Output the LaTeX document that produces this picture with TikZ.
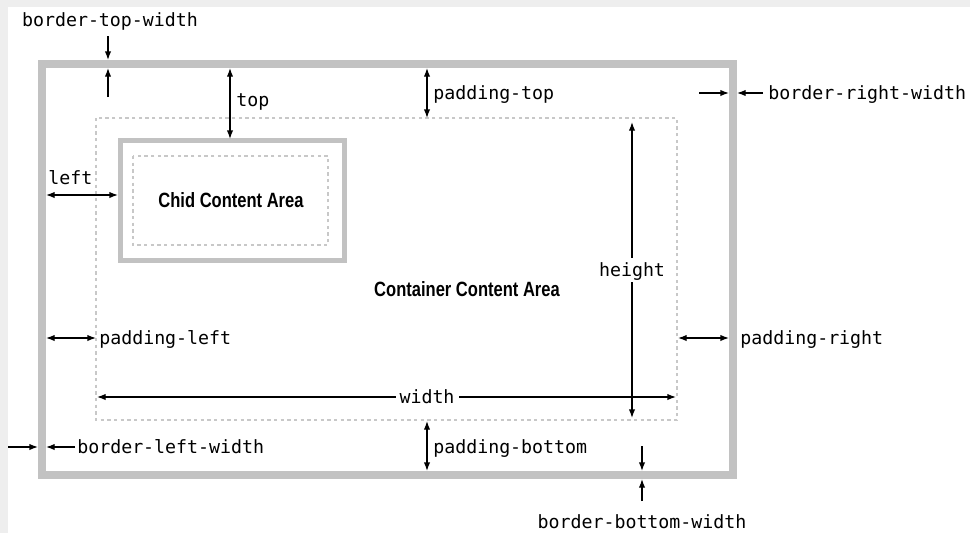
\documentclass[tikz,border=0pt]{standalone}
\usepackage{fontspec}
\setmonofont{DejaVu Sans Mono}
\newfontfamily\cfont[FakeStretch=0.8]{Liberation Sans}
\usetikzlibrary{arrows.meta}
\definecolor{bggray}{HTML}{EEEEEE}
\definecolor{boxgray}{HTML}{C2C2C2}
\definecolor{dashgray}{HTML}{C8C8C8}
\begin{document}
\begin{tikzpicture}[x=0.75pt,y=-0.75pt,
  lbl/.style={font=\ttfamily\fontsize{13.7}{16}\selectfont, inner sep=0pt, text height=11.2pt, text depth=1.4pt},
  lblw/.style={lbl, anchor=west},
  gaplbl/.style={lbl, fill=white, inner xsep=3pt},
  area/.style={font=\cfont\bfseries\fontsize{15.5}{17}\selectfont, inner sep=0pt},
  dimline/.style={line width=1pt, {Latex[length=6.5pt,width=4.8pt]}-{Latex[length=6.5pt,width=4.8pt]}},
  tipline/.style={line width=1pt, -{Latex[length=6.5pt,width=4.8pt]}},
  thickbox/.style={draw=boxgray},
  dashbox/.style={draw=dashgray, line width=0.9pt, dash pattern=on 2.5pt off 2.5pt}]
\useasboundingbox (0,0) rectangle (970,533);
\fill[bggray] (0,0) rectangle (970,533);
\fill[white] (8,7) rectangle (970,533);
% boxes
\draw[thickbox, line width=6pt] (42,64) rectangle (733,475);
\draw[dashbox] (96,118) rectangle (677,420);
\draw[thickbox, line width=3.75pt] (120,140) rectangle (344,260);
\draw[dashbox] (133,156) rectangle (328,245);
\node[area] (child) at (231,200) {Chid Content Area};
\node[area] (cont) at (467,289) {Container Content Area};
% border-top-width
\node[lbl] (btw) at (110,20) {border-top-width};
\coordinate (btwA) at (108,36); \coordinate (btwB) at (108,60);
\coordinate (btwC) at (108,97); \coordinate (btwD) at (108,68);
\draw[tipline] (btwA) -- (btwB);
\draw[tipline] (btwC) -- (btwD);
% top
\coordinate (topA) at (230,68); \coordinate (topB) at (230,139);
\draw[dimline] (topA) -- (topB);
\node[lblw] (top) at (236,100) {top};
% padding-top
\coordinate (ptA) at (427,68); \coordinate (ptB) at (427,118);
\draw[dimline] (ptA) -- (ptB);
\node[lblw] (pt) at (433,93) {padding-top};
% border-right-width
\coordinate (brwA) at (699,93); \coordinate (brwB) at (729,93);
\coordinate (brwC) at (763,93); \coordinate (brwD) at (737,93);
\draw[tipline] (brwA) -- (brwB);
\draw[tipline] (brwC) -- (brwD);
\node[lblw] (brw) at (768,93) {border-right-width};
% left
\coordinate (lfA) at (46,195); \coordinate (lfB) at (118,195);
\draw[dimline] (lfA) -- (lfB);
\node[lblw] (lf) at (48,178) {left};
% height
\coordinate (htA) at (632,122); \coordinate (htB) at (632,418);
\draw[dimline] (htA) -- (htB);
\node[gaplbl, inner ysep=3pt] (ht) at (632,270) {height};
% padding-left
\coordinate (plA) at (46,338); \coordinate (plB) at (96,338);
\draw[dimline] (plA) -- (plB);
\node[lblw] (pl) at (99,338) {padding-left};
% padding-right
\coordinate (prA) at (678,338); \coordinate (prB) at (729,338);
\draw[dimline] (prA) -- (prB);
\node[lblw] (pr) at (740,338) {padding-right};
% width
\coordinate (wdA) at (97,397); \coordinate (wdB) at (676,397);
\draw[dimline] (wdA) -- (wdB);
\node[gaplbl] (wd) at (427,397) {width};
% border-left-width
\coordinate (blwA) at (8,447); \coordinate (blwB) at (38,447);
\coordinate (blwC) at (75,447); \coordinate (blwD) at (46,447);
\draw[tipline] (blwA) -- (blwB);
\draw[tipline] (blwC) -- (blwD);
\node[lblw] (blw) at (77,447) {border-left-width};
% padding-bottom
\coordinate (pbA) at (427,421); \coordinate (pbB) at (427,471);
\draw[dimline] (pbA) -- (pbB);
\node[lblw] (pb) at (433,447) {padding-bottom};
% border-bottom-width
\coordinate (bbwA) at (642,446); \coordinate (bbwB) at (642,471);
\coordinate (bbwC) at (642,501); \coordinate (bbwD) at (642,479);
\draw[tipline] (bbwA) -- (bbwB);
\draw[tipline] (bbwC) -- (bbwD);
\node[lbl] (bbw) at (642,522) {border-bottom-width};
\end{tikzpicture}
\end{document}
